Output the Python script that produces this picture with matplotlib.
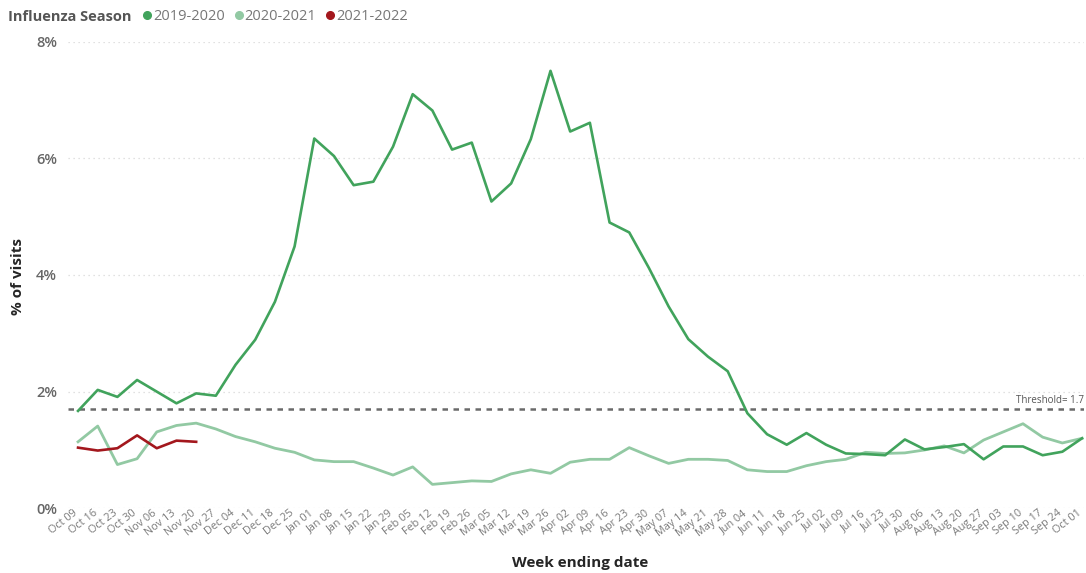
import matplotlib
matplotlib.use("Agg")
import matplotlib.pyplot as plt
from matplotlib.lines import Line2D
from matplotlib.transforms import ScaledTranslation

weeks = ["Oct 09","Oct 16","Oct 23","Oct 30","Nov 06","Nov 13","Nov 20","Nov 27",
         "Dec 04","Dec 11","Dec 18","Dec 25","Jan 01","Jan 08","Jan 15","Jan 22","Jan 29",
         "Feb 05","Feb 12","Feb 19","Feb 26","Mar 05","Mar 12","Mar 19","Mar 26",
         "Apr 02","Apr 09","Apr 16","Apr 23","Apr 30","May 07","May 14","May 21","May 28",
         "Jun 04","Jun 11","Jun 18","Jun 25","Jul 02","Jul 09","Jul 16","Jul 23","Jul 30",
         "Aug 06","Aug 13","Aug 20","Aug 27","Sep 03","Sep 10","Sep 17","Sep 24","Oct 01"]

s2019 = [1.67, 2.03, 1.91, 2.20, 2.00, 1.80, 1.97, 1.93,
         2.46, 2.89, 3.54, 4.49, 6.34, 6.04, 5.54, 5.60, 6.20,
         7.10, 6.82, 6.15, 6.27, 5.26, 5.57, 6.33, 7.50,
         6.46, 6.61, 4.90, 4.73, 4.12, 3.46, 2.90, 2.60, 2.35,
         1.63, 1.27, 1.09, 1.29, 1.09, 0.94, 0.93, 0.91, 1.18,
         1.01, 1.05, 1.10, 0.84, 1.06, 1.06, 0.91, 0.97, 1.20]

s2020 = [1.14, 1.41, 0.75, 0.85, 1.31, 1.42, 1.46, 1.36,
         1.23, 1.14, 1.03, 0.96, 0.83, 0.80, 0.80, 0.69, 0.57,
         0.71, 0.41, 0.44, 0.47, 0.46, 0.59, 0.66, 0.60,
         0.79, 0.84, 0.84, 1.04, 0.90, 0.77, 0.84, 0.84, 0.82,
         0.66, 0.63, 0.63, 0.73, 0.80, 0.84, 0.96, 0.94, 0.95,
         1.00, 1.07, 0.95, 1.17, 1.31, 1.45, 1.22, 1.12, 1.20]

s2021 = [1.04, 0.99, 1.03, 1.25, 1.03, 1.16, 1.14]

threshold = 1.7
yticks = [0, 2, 4, 6, 8]

c19 = "#41a35c"
c20 = "#92c9a3"
c21 = "#a3171d"

plt.rcParams['font.family'] = ['Open Sans', 'DejaVu Sans']

fig = plt.figure(figsize=(10.86, 5.73), dpi=100)
W, H = 1086, 573
ax = fig.add_axes([68 / W, (H - 508.3) / H, (1084 - 68) / W, (508.3 - 41.7) / H])

x = list(range(len(weeks)))
ax.plot(x, s2020, color=c20, lw=2.0, solid_joinstyle='round', zorder=3)
ax.plot(x, s2019, color=c19, lw=1.9, solid_joinstyle='round', zorder=4)
ax.plot(x[:len(s2021)], s2021, color=c21, lw=1.9, solid_joinstyle='round', zorder=5)

ax.axhline(threshold, color="#6a6a6a", lw=1.8, ls=(0, (2.2, 2.2)), zorder=2)
ax.text(51.1, threshold + 0.06, f"Threshold= {threshold}", ha='right', va='bottom',
        fontsize=7, color="#555555")

ax.set_xlim(-0.51, 51.1)
ax.set_ylim(0, 8)
ax.set_yticks(yticks)
ax.set_yticklabels([f"{v}%" for v in yticks], fontsize=10.5, color="#666666",
                   fontweight='semibold')
for v in yticks:
    ax.axhline(v, color="#d8d8d8", lw=0.9, ls=(0, (1, 3)), zorder=1)

ax.set_xticks(x)
ax.set_xticklabels(weeks, rotation=38, ha='right', rotation_mode='anchor',
                   fontsize=7.8, color="#7a7a7a")
ax.tick_params(axis='both', length=0)
ax.tick_params(axis='y', pad=8)
ax.tick_params(axis='x', pad=1)
offset = ScaledTranslation(-5 / 100, 2 / 100, fig.dpi_scale_trans)
for lbl in ax.get_xticklabels():
    lbl.set_transform(lbl.get_transform() + offset)

for sp in ax.spines.values():
    sp.set_visible(False)

fig.text(580 / W, 1 - 563 / H, "Week ending date", ha='center', va='center',
         fontsize=11, fontweight='bold', color="#252525")
fig.text(18 / W, 1 - 276 / H, "% of visits", ha='center', va='center', rotation=90,
         fontsize=11, fontweight='bold', color="#252525")

fig.text(8 / W, 1 - 17 / H, "Influenza Season", ha='left', va='center',
         fontsize=10.5, fontweight='bold', color="#555555")
handles = [Line2D([], [], ls='none', marker='o', markersize=5.5, color=c)
           for c in (c19, c20, c21)]
fig.legend(handles, ["2019-2020", "2020-2021", "2021-2022"], ncol=3,
           loc='center left', bbox_to_anchor=(140 / W, 1 - 17 / H),
           frameon=False, fontsize=10.5, handletextpad=-0.1, columnspacing=0.45,
           handlelength=1.0, labelcolor="#777777", borderpad=0, borderaxespad=0)

fig.savefig("out.png", dpi=100)
